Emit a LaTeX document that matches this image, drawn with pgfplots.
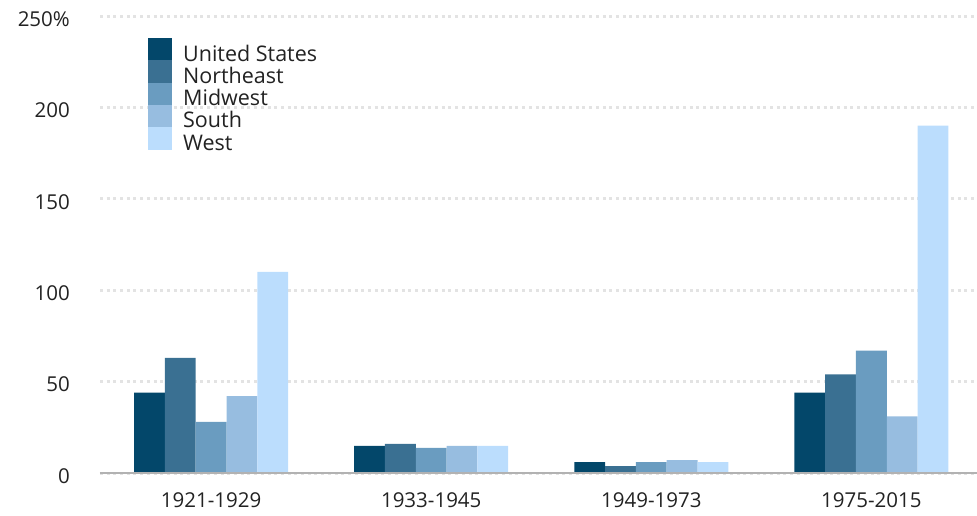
\documentclass[border=0pt]{standalone}
\usepackage{pgfplots}
\pgfplotsset{compat=1.18}
\usepackage{fontspec}
\setmainfont{Open Sans}
\definecolor{cUS}{HTML}{03476A}
\definecolor{cNE}{HTML}{3A7092}
\definecolor{cMW}{HTML}{6A9CC0}
\definecolor{cSO}{HTML}{97BDE0}
\definecolor{cWE}{HTML}{BBDDFD}
\definecolor{txt}{HTML}{222222}
\begin{document}
\begin{tikzpicture}
\begin{axis}[
  name=ax, at={(0,0)}, anchor=south west,
  scale only axis,
  width=877pt, height=457pt,
  xmin=-0.505, xmax=3.48,
  ymin=0, ymax=250,
  ybar=0pt, bar width=0.14,
  xtick={0,1,2,3},
  xticklabels={1921-1929,1933-1945,1949-1973,1975-2015},
  ytick={0,50,100,150,200,250},
  yticklabels={0,50,100,150,200,250\%},
  /pgf/number format/assume math mode=true,
  axis line style={draw=none},
  tick style={draw=none},
  ymajorgrids,
  major grid style={draw=black!11, line width=3pt, dash pattern=on 3pt off 3.7pt},
  tick label style={font=\fontsize{20.5}{24}\selectfont, text=txt},
  yticklabel style={anchor=east, inner sep=0pt, xshift=-30pt, yshift=-3pt},
  xticklabel style={anchor=north, inner sep=0pt, yshift=-15pt},
  legend style={at={(rel axis cs:0.0547,0.9519)}, anchor=north west, draw=none, fill=none,
    inner sep=0pt, row sep=-2.5pt, nodes={inner sep=0pt}, cells={anchor=base west},
    font=\fontsize{21.5}{22.2}\selectfont, text=txt},
  legend image code/.code={\fill[#1] (0pt,0.5pt) rectangle (24pt,23.2pt); \path (35pt,1pt);},
]
\addplot[fill=cUS, draw=none] coordinates {(0,44) (1,14.8) (2,6) (3,44)};
\addplot[fill=cNE, draw=none] coordinates {(0,63) (1,16) (2,3.8) (3,54)};
\addplot[fill=cMW, draw=none] coordinates {(0,28) (1,13.7) (2,6) (3,67)};
\addplot[fill=cSO, draw=none] coordinates {(0,42) (1,14.8) (2,7) (3,31)};
\addplot[fill=cWE, draw=none] coordinates {(0,110) (1,14.8) (2,6) (3,190)};
\legend{United States,Northeast,Midwest,South,West}
\draw[black!30, line width=1.5pt] (rel axis cs:0,0) -- (rel axis cs:1,0);
\end{axis}
\pgfresetboundingbox
\path (ax.south west) ++(-100pt,-42pt) rectangle ++(977pt,515pt);
\end{tikzpicture}
\end{document}
